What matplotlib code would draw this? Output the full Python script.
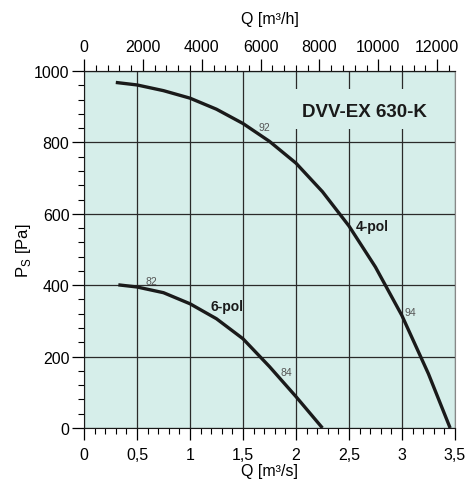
import numpy as np
import matplotlib
matplotlib.use('Agg')
import matplotlib.pyplot as plt
from matplotlib.ticker import MultipleLocator, FixedLocator, FuncFormatter
from matplotlib.patches import Rectangle

plt.rcParams['font.family'] = ['Liberation Sans', 'DejaVu Sans']

# 4-pol curve, Q [m3/s] vs Ps [Pa]
q4 = [0.30, 0.50, 0.75, 1.00, 1.25, 1.50, 1.75, 2.00, 2.25, 2.50, 2.75, 3.00, 3.25, 3.455]
p4 = [968, 961, 945, 924, 893, 853, 803, 742, 662, 566, 451, 315, 152, 0]

# 6-pol curve
q6 = [0.324, 0.50, 0.75, 1.00, 1.25, 1.50, 1.75, 2.00, 2.25]
p6 = [401, 395, 379, 348, 306, 250, 172, 88, 0]

# efficiency marks
eff_txt = ['92', '94', '82', '84']
eff_q = [1.70, 3.075, 0.632, 1.91]
eff_p = [842, 325, 413, 158]

title = 'DVV-EX 630-K'
curve_labels = ['4-pol', '6-pol']
curve_lab_q = [2.72, 1.352]
curve_lab_p = [567, 341]

top_ticks = [0, 2000, 4000, 6000, 8000, 10000, 12000]

bg = '#d6eeea'
ink = '#1a1a1a'

fig = plt.figure(figsize=(4.68, 4.85), dpi=100)
ax = fig.add_axes([0.1795, 0.1155, 0.7925, 0.736])
ax.set_facecolor(bg)

ax.set_xlim(0, 3.5)
ax.set_ylim(0, 1000)

ax.xaxis.set_major_locator(MultipleLocator(0.5))
ax.xaxis.set_minor_locator(MultipleLocator(0.1))
ax.yaxis.set_major_locator(MultipleLocator(200))
ax.yaxis.set_minor_locator(MultipleLocator(40))
ax.xaxis.set_major_formatter(FuncFormatter(lambda v, p: ('%g' % v).replace('.', ',')))

ax.grid(True, which='major', color='#2a2a2a', linewidth=0.9)
ax.set_axisbelow(True)

ax.tick_params(axis='x', which='major', direction='out', length=8.5, width=0.9, labelsize=11.5, pad=5)
ax.tick_params(axis='y', which='major', direction='out', length=8.5, width=0.9, labelsize=11.5, pad=2)
ax.tick_params(which='minor', direction='out', length=4.5, width=0.8)
for s in ['left', 'bottom', 'top']:
    ax.spines[s].set_color(ink)
ax.spines['right'].set_color('#888888')

# title panel hides the grid behind it
ax.add_patch(Rectangle((1.99, 837), 1.49, 113, facecolor=bg, edgecolor='none', zorder=1))
ax.text(2.65, 888, title, fontsize=13.5, fontweight='bold', ha='center', va='center',
        color=ink, zorder=2)

ax.plot(q4, p4, color=ink, linewidth=2.4, solid_capstyle='butt', solid_joinstyle='round', zorder=3)
ax.plot(q6, p6, color=ink, linewidth=2.4, solid_capstyle='butt', solid_joinstyle='round', zorder=3)

for t, x, y in zip(eff_txt, eff_q, eff_p):
    ax.text(x, y, t, fontsize=7.5, color='#555555', ha='center', va='center', zorder=4)
for t, x, y in zip(curve_labels, curve_lab_q, curve_lab_p):
    ax.text(x, y, t, fontsize=10, fontweight='bold', ha='center', va='center',
            color=ink, zorder=4)

ax.set_xlabel('Q [m³/s]', fontsize=11.5, labelpad=1)
ax.set_ylabel('P$_\\mathregular{S}$ [Pa]', fontsize=12, labelpad=0.5)

# top axis in m3/h
top = ax.secondary_xaxis('top', functions=(lambda q: q * 3600, lambda h: h / 3600))
top.xaxis.set_major_locator(FixedLocator(top_ticks))
top.xaxis.set_minor_locator(MultipleLocator(400))
top.tick_params(which='major', direction='out', length=8.5, width=0.9, labelsize=11.5, pad=4)
top.tick_params(which='minor', direction='out', length=4.5, width=0.8)
top.spines['top'].set_color(ink)
top.set_xlabel('Q [m³/h]', fontsize=11.5, labelpad=11)

fig.savefig('out.png', dpi=100)
